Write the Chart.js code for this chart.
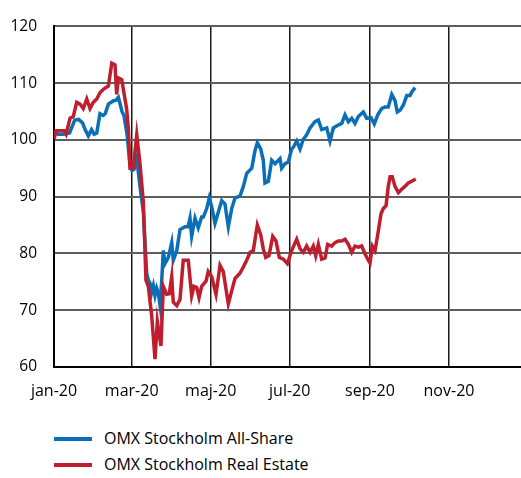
<!DOCTYPE html>
<html>
<head>
<meta charset="utf-8">
<script src="https://cdn.jsdelivr.net/npm/chart.js@4.4.1/dist/chart.umd.min.js"></script>
<style>
  body { margin: 0; background: #fff; font-family: "Open Sans", sans-serif; }
  #wrap { position: relative; width: 521px; height: 478px; overflow: hidden; }
  #chart { position: absolute; left: 0; top: 0; }
  .leg { position: absolute; left: 54px; height: 24px; line-height: 24px; font-size: 16px; color: #000; white-space: nowrap; }
  .leg span { display: inline-block; width: 38px; height: 4px; vertical-align: middle; margin-right: 12px; position: relative; top: -1px; }
</style>
</head>
<body>
<div id="wrap">
  <canvas id="chart" width="521" height="410"></canvas>
  <div class="leg" style="top:426px"><span style="background:#0B6FB8"></span>OMX Stockholm All-Share</div>
  <div class="leg" style="top:452px"><span style="background:#BE1E2D"></span>OMX Stockholm Real Estate</div>
</div>
<script>
// x values are days since 1 jan 2020
const tickDays = [0, 60, 121, 182, 244, 305];
const tickLabels = ['jan-20', 'mar-20', 'maj-20', 'jul-20', 'sep-20', 'nov-20'];

const allShareDays = [0, 3, 7, 12, 16, 19, 22, 24, 26.5, 29, 31, 33, 35.5, 38, 39.5, 42, 46, 48, 49.7, 52.5, 54, 56.4, 58.7, 60.2, 61.8, 63.9, 66.4, 69, 71.6, 72.8, 74.1, 75.4, 76.7, 78, 79.3, 80.5, 81.9, 83.2, 84.4, 85.7, 88.3, 90.9, 92.1, 94.8, 97.3, 101.2, 103.5, 105, 106.3, 108.9, 111.4, 114, 115.3, 117.9, 119.9, 122, 124.3, 126.9, 129.5, 132, 134.6, 137.2, 139.8, 143.6, 146.2, 148.8, 152.7, 155.2, 157, 159.6, 161.6, 162.9, 165.5, 168.1, 170.7, 174.5, 175.8, 178.4, 180.9, 183.5, 184.8, 187.4, 190, 192.5, 195.1, 197.7, 201.5, 204.1, 206.7, 210.6, 213.1, 215.7, 219.5, 222.2, 224.7, 227.3, 229.9, 232.4, 235, 238.8, 241.5, 244.8, 247.3, 250, 253, 255.6, 258.1, 260.8, 263.3, 265.1, 267.2, 269.7, 272.4, 274.9, 276.2, 278.8];
const allShare = [101.6, 101.0, 101.0, 101.2, 103.5, 103.6, 103.0, 101.8, 100.7, 101.8, 101.0, 101.2, 104.6, 104.3, 104.6, 106.3, 106.9, 107.0, 107.5, 105.0, 104.3, 101.0, 95.5, 94.6, 94.8, 96.7, 91.8, 87.3, 76.5, 75.3, 74.8, 73.1, 74.3, 72.6, 73.9, 73.1, 70.8, 75.3, 80.5, 78.2, 79.3, 81.9, 78.8, 80.5, 84.2, 84.7, 84.7, 86.2, 83.0, 86.2, 84.5, 86.4, 86.4, 87.9, 89.8, 88.0, 85.3, 87.3, 89.3, 88.7, 84.7, 87.9, 89.8, 90.1, 91.8, 94.1, 95.0, 98.1, 99.5, 98.4, 96.4, 92.4, 92.7, 96.4, 95.8, 96.7, 95.0, 95.8, 96.1, 98.4, 98.7, 99.8, 98.4, 100.1, 100.9, 102.1, 103.2, 103.5, 101.8, 102.1, 99.8, 102.1, 102.6, 102.9, 104.4, 103.2, 103.8, 102.9, 104.1, 104.9, 103.8, 103.9, 102.8, 104.4, 105.5, 105.8, 105.8, 108.0, 106.9, 104.9, 105.2, 106.1, 107.8, 107.8, 108.4, 109.2];

const realEstateDays = [0, 1.5, 4.6, 7.7, 9.3, 12.4, 14.9, 17.5, 20.1, 22.6, 25.3, 27.8, 30.3, 33, 35.5, 38.1, 42, 44.6, 47.1, 48.4, 49.7, 52.3, 54.8, 56.1, 57.4, 58.7, 61.2, 63.9, 66.4, 69, 71, 72.8, 75.4, 78, 79.8, 82.6, 84.4, 87, 89, 90.9, 92.1, 94.8, 97.3, 99.8, 103.7, 106.3, 108.1, 110.2, 112, 114, 117.4, 119.1, 121.8, 125.1, 128.2, 130.7, 134.6, 137.2, 139.8, 143.6, 146.2, 148.8, 151.4, 153.9, 157, 159.6, 161.6, 163.5, 166, 168.9, 171.4, 174, 177.1, 180.2, 183.5, 187.4, 190, 192.5, 195.1, 197.7, 200.2, 202.1, 204.1, 206.7, 209.3, 211.3, 214.4, 217, 219.5, 222.2, 224.7, 227.3, 229.9, 232.4, 235, 237.6, 240.2, 242.7, 244, 245.8, 247.9, 250.4, 252.5, 254.3, 256.4, 258.1, 259.5, 261.2, 263.3, 265.9, 268.5, 271, 273.6, 276.2, 279.3];
const realEstate = [100.1, 101.6, 101.6, 101.6, 101.0, 103.8, 104.1, 106.6, 106.3, 105.5, 107.2, 105.5, 106.6, 107.2, 108.3, 108.9, 109.5, 113.5, 113.2, 108.0, 110.9, 110.6, 107.2, 105.5, 102.0, 95.0, 95.0, 100.9, 95.8, 89.0, 75.3, 74.2, 69.1, 61.4, 68.0, 63.7, 74.2, 72.8, 72.9, 75.9, 71.4, 70.8, 71.9, 78.8, 78.8, 72.5, 74.2, 74.0, 72.2, 74.2, 75.1, 76.8, 75.9, 72.8, 77.9, 76.8, 71.1, 73.4, 75.6, 76.5, 77.6, 78.8, 80.2, 80.5, 85.0, 83.3, 80.8, 79.3, 79.6, 83.0, 82.2, 79.3, 79.0, 78.2, 80.5, 82.5, 80.8, 80.2, 81.3, 80.2, 81.3, 79.6, 81.6, 79.0, 79.2, 81.6, 81.3, 81.9, 82.2, 82.2, 82.5, 81.6, 80.2, 81.3, 81.1, 81.3, 79.9, 78.8, 78.3, 81.3, 80.5, 83.9, 87.0, 87.9, 88.4, 91.8, 93.5, 93.5, 91.8, 90.7, 91.3, 91.8, 92.4, 92.7, 93.1];

const toPoints = (days, vals) => days.map((d, i) => ({ x: d, y: vals[i] }));

const ctx = document.getElementById('chart').getContext('2d');

const chart = new Chart(ctx, {
    type: 'line',
    data: {
        datasets: [{
            label: 'OMX Stockholm All-Share',
            data: toPoints(allShareDays, allShare),
            borderColor: '#0B6FB8',
            borderWidth: 3.5,
            pointRadius: 0,
            tension: 0,
            order: 2
        }, {
            label: 'OMX Stockholm Real Estate',
            data: toPoints(realEstateDays, realEstate),
            borderColor: '#BE1E2D',
            borderWidth: 3.5,
            pointRadius: 0,
            tension: 0,
            order: 1
        }]
    },
    options: {
        responsive: false,
        animation: false,
        layout: { padding: { top: 15, right: 0, left: 0, bottom: 0 } },
        plugins: {
            legend: { display: false },
            tooltip: { enabled: false }
        },
        scales: {
            x: {
                type: 'linear',
                min: 0,
                max: 360.6,
                afterBuildTicks: (scale) => {
                    scale.ticks = tickDays.map(v => ({ value: v }));
                },
                afterFit: (scale) => { scale.height = 43; },
                ticks: {
                    autoSkip: false,
                    maxRotation: 0,
                    padding: 15,
                    color: '#000',
                    font: { family: 'Open Sans', size: 16 },
                    callback: (v) => tickLabels[tickDays.indexOf(v)]
                },
                grid: { color: '#1a1a1a', lineWidth: 1.5, drawTicks: false },
                border: { color: '#000', width: 2 }
            },
            y: {
                min: 60,
                max: 120,
                afterFit: (scale) => { scale.width = 54; },
                ticks: {
                    stepSize: 10,
                    padding: 17,
                    color: '#000',
                    font: { family: 'Open Sans', size: 15.5 }
                },
                grid: { color: '#5e5e5e', lineWidth: 2, drawTicks: false },
                border: { color: '#000', width: 2 }
            }
        }
    }
});
</script>
</body>
</html>
